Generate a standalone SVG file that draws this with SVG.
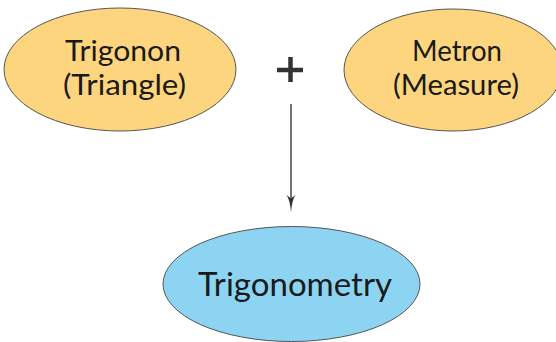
<svg xmlns="http://www.w3.org/2000/svg" width="556" height="342" viewBox="0 0 556 342">
<style>
.yel{fill:#FDD57E;stroke:#555;stroke-width:1}
.blu{fill:#8CD4F1;stroke:#555;stroke-width:1}
.t{font-family:Lato,"Open Sans",sans-serif;fill:#1a1a1a;text-anchor:middle}
.s{font-size:28px}
.b{font-size:32px}
</style>
<rect width="556" height="342" fill="#fff"/>
<g id="trigonon">
<ellipse class="yel" cx="120" cy="69.5" rx="116" ry="61.5"/>
<text class="t s" x="123" y="61" textLength="116" lengthAdjust="spacingAndGlyphs">Trigonon</text>
<text class="t s" x="124.5" y="95" textLength="123" lengthAdjust="spacingAndGlyphs">(Triangle)</text>
</g>
<g id="metron">
<ellipse class="yel" cx="453" cy="70" rx="109" ry="61"/>
<text class="t s" x="457" y="61" textLength="90" lengthAdjust="spacingAndGlyphs">Metron</text>
<text class="t s" x="456" y="95" textLength="126" lengthAdjust="spacingAndGlyphs">(Measure)</text>
</g>
<g id="plus">
<path d="M277,70 H303 M290.5,57 V82" stroke="#333" stroke-width="4.5" fill="none"/>
</g>
<g id="trigonometry">
<ellipse class="blu" cx="291.5" cy="284" rx="128.5" ry="57.5"/>
<text class="t b" x="295" y="296" textLength="194" lengthAdjust="spacingAndGlyphs">Trigonometry</text>
</g>
<g id="connectors">
<path d="M291,104 V200" stroke="#444" stroke-width="1.5" fill="none"/>
<path d="M286.5,195 Q290,200 291,212.5 Q292,200 295.5,195 L291,198.5 Z" fill="#333"/>
</g>
</svg>
